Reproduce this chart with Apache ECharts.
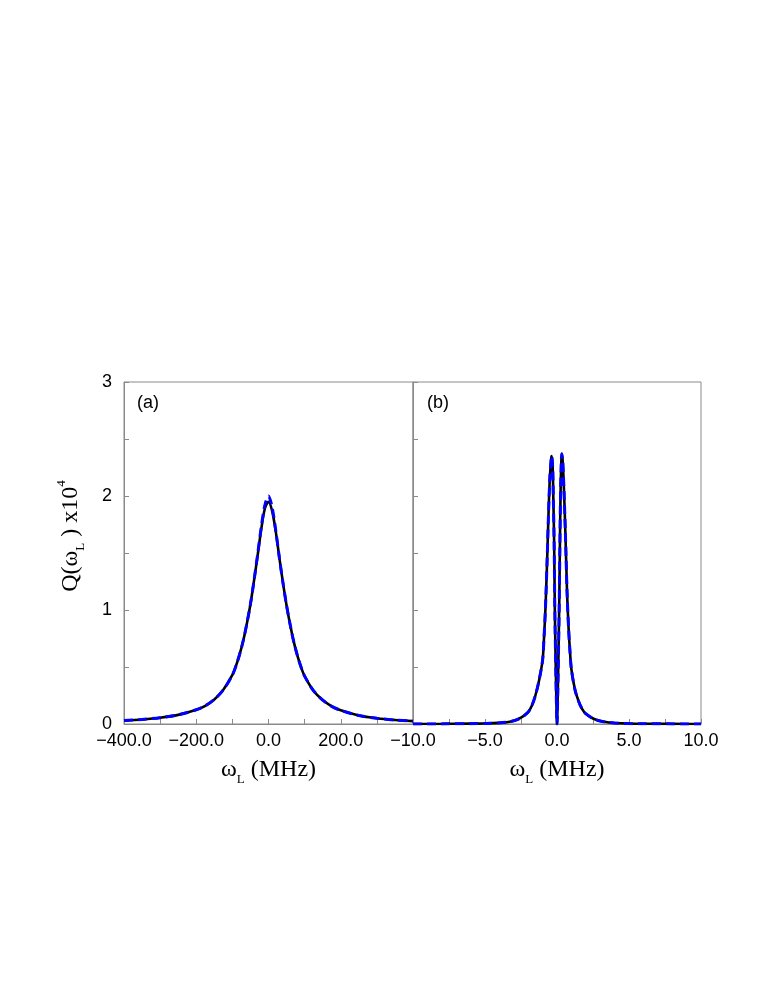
<!DOCTYPE html>
<html>
<head>
<meta charset="utf-8">
<script src="https://cdn.jsdelivr.net/npm/echarts@6/dist/echarts.min.js"></script>
<style>
  html, body { margin: 0; padding: 0; background: #fff; }
  #chart { width: 761px; height: 985px; }
</style>
</head>
<body>
<div id="chart"></div>
<script>
// panel (a): wide scan, MHz
const aFreq = [-400, -350, -300, -250, -200, -175, -150, -125, -100, -90, -80, -70, -60, -50, -40, -30, -20, -10, 0,
  10, 20, 30, 40, 50, 60, 70, 80, 90, 100, 125, 150, 175, 200, 250, 300, 350, 400]
const aBlack = [0.03, 0.04, 0.055, 0.08, 0.125, 0.16, 0.215, 0.3, 0.43, 0.51, 0.61, 0.73, 0.88, 1.05, 1.26, 1.48, 1.71, 1.89, 1.95,
  1.87, 1.69, 1.46, 1.24, 1.04, 0.87, 0.72, 0.6, 0.5, 0.42, 0.29, 0.21, 0.155, 0.12, 0.075, 0.05, 0.035, 0.025]
const aBlue = [0.03, 0.04, 0.055, 0.08, 0.125, 0.16, 0.215, 0.3, 0.43, 0.51, 0.61, 0.73, 0.88, 1.05, 1.26, 1.49, 1.73, 1.92, 2.0,
  1.9, 1.7, 1.46, 1.24, 1.04, 0.87, 0.72, 0.6, 0.5, 0.42, 0.29, 0.21, 0.155, 0.12, 0.075, 0.05, 0.035, 0.025]

// panel (b): narrow scan, MHz
const bFreq = [-10, -8, -6, -5, -4, -3.5, -3, -2.5, -2, -1.75, -1.5, -1.25, -1, -0.9, -0.8, -0.7, -0.6, -0.5, -0.4, -0.37,
  -0.3, -0.25, -0.2, -0.15, -0.1, -0.05, 0, 0.05, 0.1, 0.15, 0.2, 0.25, 0.3, 0.33, 0.4, 0.5, 0.6, 0.7, 0.8, 0.9, 1,
  1.25, 1.5, 1.75, 2, 2.5, 3, 3.5, 4, 5, 6, 8, 10]
const bBlack = [0, 0.001, 0.003, 0.005, 0.01, 0.016, 0.028, 0.055, 0.105, 0.16, 0.25, 0.38, 0.56, 0.76, 1.02, 1.38, 1.8, 2.15, 2.33, 2.35,
  2.25, 1.95, 1.6, 1.0, 0.6, 0.25, 0, 0.25, 0.6, 1.0, 1.55, 2.05, 2.3, 2.37, 2.3, 2.0, 1.6, 1.15, 0.85, 0.64, 0.48,
  0.3, 0.2, 0.13, 0.09, 0.048, 0.026, 0.015, 0.009, 0.004, 0.002, 0.001, 0]
const bBlue = [0, 0.001, 0.003, 0.005, 0.01, 0.016, 0.028, 0.055, 0.105, 0.16, 0.25, 0.38, 0.56, 0.76, 1.02, 1.38, 1.8, 2.15, 2.33, 2.35,
  2.25, 1.95, 1.6, 1.0, 0.6, 0.25, 0, 0.25, 0.6, 1.0, 1.55, 2.05, 2.3, 2.37, 2.3, 2.0, 1.6, 1.15, 0.85, 0.64, 0.48,
  0.3, 0.2, 0.13, 0.09, 0.048, 0.026, 0.015, 0.009, 0.004, 0.002, 0.001, 0]

const yTicks = [0, 1, 2, 3]

const SANS = 'Liberation Sans, Arial, sans-serif'
const SERIF = 'Liberation Serif, Times New Roman, serif'
const GRAY = '#8a8a8a'

const zip = (xs, ys) => xs.map((x, i) => [x, ys[i]])
const fmt = v => (v < 0 ? '\u2212' : '') + Math.abs(v).toFixed(1)

const titleRich = {
  n: { fontFamily: SERIF, fontSize: 24, lineHeight: 32, color: '#000' },
  s: { fontFamily: SERIF, fontSize: 13, lineHeight: 13, verticalAlign: 'bottom', color: '#000' },
  p: { fontFamily: SERIF, fontSize: 13, lineHeight: 13, verticalAlign: 'top', color: '#000' }
}

function xAxisOf (idx, min, max, step, labelStep, hideMax) {
  return {
    type: 'value',
    gridIndex: idx,
    min: min,
    max: max,
    interval: step,
    name: '{n|ω}{s|L}{n| (MHz)}',
    nameLocation: 'middle',
    nameGap: 30,
    nameTextStyle: { rich: titleRich },
    axisLine: { onZero: false, lineStyle: { color: GRAY, width: 1 } },
    axisTick: { inside: true, length: 5, lineStyle: { color: GRAY } },
    splitLine: { show: false },
    axisLabel: {
      fontFamily: SANS,
      fontSize: 18,
      color: '#000',
      margin: 8,
      showMaxLabel: !hideMax,
      formatter: v => (Math.abs(v % labelStep) < 1e-9 && !(hideMax && v === max)) ? fmt(v) : ''
    }
  }
}

function yAxisOf (idx, showLabels) {
  return {
    type: 'value',
    gridIndex: idx,
    min: 0,
    max: 3,
    interval: 0.5,
    axisLine: { show: true, onZero: false, lineStyle: { color: GRAY, width: 1 } },
    axisTick: { show: true, inside: true, length: 5, lineStyle: { color: GRAY } },
    splitLine: { show: false },
    axisLabel: {
      show: showLabels,
      fontFamily: SANS,
      fontSize: 18,
      color: '#000',
      margin: 12,
      formatter: v => yTicks.includes(v) ? String(v) : ''
    }
  }
}

function lines (idx, xs, black, blue) {
  return [{
    type: 'line',
    xAxisIndex: idx,
    yAxisIndex: idx,
    data: zip(xs, black),
    showSymbol: false,
    smooth: 0.3,
    lineStyle: { color: '#000', width: 2.6 },
    z: 2
  }, {
    type: 'line',
    xAxisIndex: idx,
    yAxisIndex: idx,
    data: zip(xs, blue),
    showSymbol: false,
    smooth: 0.3,
    lineStyle: { color: '#0000ff', width: 3, type: [9, 5] },
    z: 3
  }]
}

const chart = echarts.init(document.getElementById('chart'))

chart.setOption({
  backgroundColor: '#fff',
  animation: false,
  grid: [
    { left: 124, top: 382, width: 289, height: 342, show: true, borderColor: GRAY, borderWidth: 1 },
    { left: 413, top: 382, width: 288, height: 342, show: true, borderColor: GRAY, borderWidth: 1 }
  ],
  xAxis: [
    xAxisOf(0, -400, 400, 100, 200, true),
    xAxisOf(1, -10, 10, 2.5, 5, false)
  ],
  yAxis: [
    yAxisOf(0, true),
    yAxisOf(1, false)
  ],
  graphic: [
    {
      type: 'text',
      x: 71,
      y: 536,
      rotation: Math.PI / 2,
      style: {
        text: '{n|Q(ω}{s|L}{n| ) x10}{p|4}',
        rich: titleRich,
        align: 'center',
        verticalAlign: 'middle'
      }
    },
    { type: 'text', x: 137, y: 394, style: { text: '(a)', fontFamily: SANS, fontSize: 18, fill: '#000' } },
    { type: 'text', x: 427, y: 394, style: { text: '(b)', fontFamily: SANS, fontSize: 18, fill: '#000' } }
  ],
  series: [
    ...lines(0, aFreq, aBlack, aBlue),
    ...lines(1, bFreq, bBlack, bBlue)
  ]
})
</script>
</body>
</html>
